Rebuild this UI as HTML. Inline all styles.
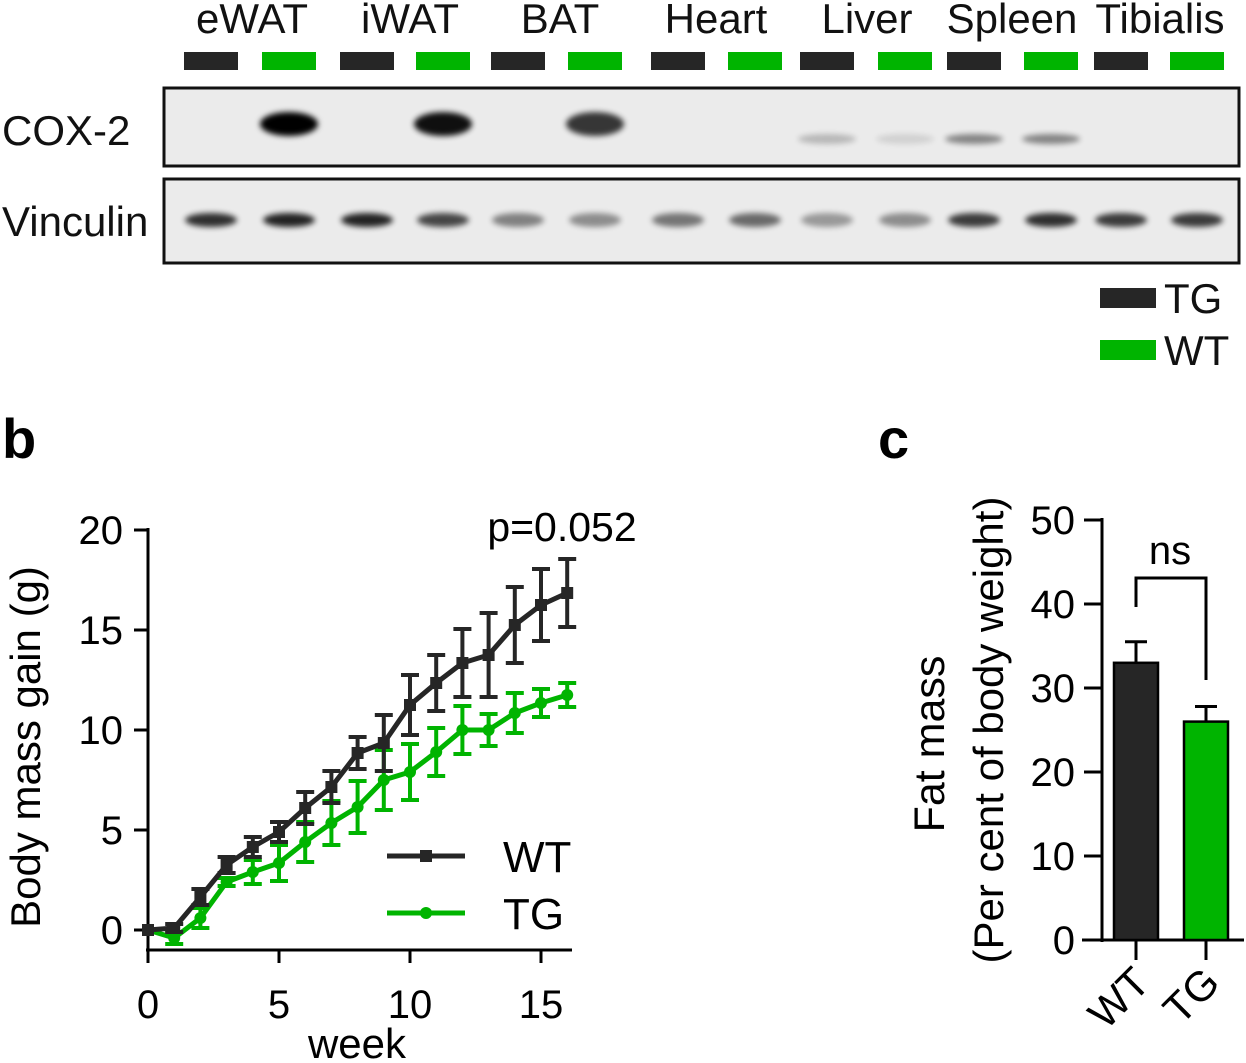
<!DOCTYPE html>
<html><head><meta charset="utf-8"><style>
html,body{margin:0;padding:0;background:#fff;}
svg{display:block;font-family:"Liberation Sans",Arial,sans-serif;}
</style></head><body>
<svg id="fig" width="1246" height="1063" viewBox="0 0 1246 1063">
<defs>
<filter id="blur" x="-50%" y="-100%" width="200%" height="300%"><feGaussianBlur stdDeviation="3"/></filter>
</defs>
<g id="blot"></g>
<g id="chartB"></g>
<g id="chartC"></g>
</svg>
<script>
const NS='http://www.w3.org/2000/svg';
function mk(tag,attrs,parent,text){const e=document.createElementNS(NS,tag);for(const k in attrs)e.setAttribute(k,attrs[k]);if(text!==undefined)e.textContent=text;parent.appendChild(e);return e;}
const BLACK='#262626', GREEN='#00b400';

// ---------- Blot (panel a) ----------
const tissues=['eWAT','iWAT','BAT','Heart','Liver','Spleen','Tibialis'];
const tissueX=[252,410,560,716,867,1012,1160];
const laneX=[211,289,367,443,518,595,678,755,827,905,974,1051,1121,1197];
const coxIntensity=[0,1,0,0.85,0,0.7,0,0,0.2,0.1,0.4,0.4,0,0];
const vincIntensity=[0.8,0.85,0.85,0.7,0.45,0.4,0.5,0.55,0.35,0.4,0.75,0.8,0.75,0.75];
const blot=document.getElementById('blot');
tissues.forEach((t,i)=>{const e=mk('text',{x:tissueX[i],y:33,'font-size':42,'text-anchor':'middle',fill:'#111'},blot,t);

});
laneX.forEach((x,i)=>{const r=mk('rect',{x:x-27,y:52,width:54,height:18,fill:i%2?GREEN:BLACK},blot);

});
const coxBox=mk('rect',{x:164,y:88,width:1075,height:78,fill:'#ebebeb',stroke:'#111','stroke-width':3},blot);
 
const vinBox=mk('rect',{x:164,y:179,width:1075,height:84,fill:'#ebebeb',stroke:'#111','stroke-width':3},blot);
 
laneX.forEach((x,i)=>{const v=coxIntensity[i]; if(v>0){const b=mk('ellipse',{cx:x,cy:v>0.5?124:139,rx:29,ry:v>0.5?12:5,fill:'#000',opacity:Math.min(1,v*1.1),filter:'url(#blur)'},blot);

}
const w=mk('ellipse',{cx:x,cy:220,rx:26,ry:7,fill:'#000',opacity:vincIntensity[i],filter:'url(#blur)'},blot);

});
let t1=mk('text',{x:2,y:145,'font-size':42,fill:'#111'},blot,'COX-2');
let t2=mk('text',{x:2,y:236,'font-size':42,fill:'#111'},blot,'Vinculin');
[['TG',BLACK,298],['WT',GREEN,350]].forEach(([n,c,y])=>{const g=mk('g',{},blot);


mk('rect',{x:1100,y:y-10,width:56,height:20,fill:c},g);mk('text',{x:1164,y:y+15,'font-size':42,fill:'#111'},g,n);});

// ---------- Panel b ----------
const weeks=[0,1,2,3,4,5,6,7,8,9,10,11,12,13,14,15,16];
const wtMean=[0,0.1,1.65,3.25,4.15,4.9,6.1,7.15,8.85,9.35,11.25,12.35,13.35,13.75,15.25,16.25,16.85];
const wtErr=[0,0.2,0.4,0.4,0.5,0.5,0.8,0.8,0.8,1.4,1.5,1.4,1.7,2.1,1.9,1.8,1.7];
const tgMean=[0,-0.4,0.6,2.4,2.9,3.35,4.4,5.35,6.15,7.5,7.9,8.9,10,10,10.85,11.35,11.75];
const tgErr=[0,0.3,0.5,0.2,0.6,0.9,1.0,1.1,1.3,1.5,1.4,1.2,1.2,0.8,1.0,0.7,0.6];
const bYTicks=[0,5,10,15,20];
const bXTicks=[0,5,10,15];
const bx=w=>148+w*(393/15), by=v=>930-v*20;
const B=document.getElementById('chartB');
let pb=mk('text',{x:2,y:458,'font-size':56,'font-weight':'bold',fill:'#000'},B,'b');
mk('line',{x1:148,y1:528,x2:148,y2:950,stroke:'#000','stroke-width':3},B);
mk('line',{x1:146,y1:950,x2:572,y2:950,stroke:'#000','stroke-width':3},B);
bYTicks.forEach(v=>{mk('line',{x1:134,y1:by(v),x2:148,y2:by(v),stroke:'#000','stroke-width':3},B);
const t=mk('text',{x:123,y:by(v)+14,'font-size':40,'text-anchor':'end',fill:'#000'},B,v);

});
bXTicks.forEach(v=>{mk('line',{x1:bx(v),y1:950,x2:bx(v),y2:963,stroke:'#000','stroke-width':3},B);
const t=mk('text',{x:bx(v),y:1018,'font-size':40,'text-anchor':'middle',fill:'#000'},B,v);

});
let xt=mk('text',{x:357,y:1058,'font-size':42,'text-anchor':'middle',fill:'#000'},B,'week');
let yt=mk('text',{x:0,y:0,'font-size':42,'text-anchor':'middle',fill:'#000',transform:'translate(40,747) rotate(-90)'},B,'Body mass gain (g)');
let pv=mk('text',{x:562,y:541,'font-size':41,'text-anchor':'middle',fill:'#000'},B,'p=0.052');
function series(mean,err,color,name,square){
  const g=mk('g',{},B);
  
  
  weeks.forEach((w,i)=>{if(err[i]>0){const x=bx(w);
    mk('line',{x1:x,y1:by(mean[i]+err[i]),x2:x,y2:by(mean[i]-err[i]),stroke:color,'stroke-width':4},g);
    mk('line',{x1:x-9,y1:by(mean[i]+err[i]),x2:x+9,y2:by(mean[i]+err[i]),stroke:color,'stroke-width':4},g);
    mk('line',{x1:x-9,y1:by(mean[i]-err[i]),x2:x+9,y2:by(mean[i]-err[i]),stroke:color,'stroke-width':4},g);}});
  mk('polyline',{points:weeks.map((w,i)=>bx(w)+','+by(mean[i])).join(' '),fill:'none',stroke:color,'stroke-width':5},g);
  weeks.forEach((w,i)=>{const p=square?mk('rect',{x:bx(w)-6,y:by(mean[i])-6,width:12,height:12,fill:color},g):mk('circle',{cx:bx(w),cy:by(mean[i]),r:6,fill:color},g);
    
    });
}
series(tgMean,tgErr,GREEN,'tg',false);
series(wtMean,wtErr,BLACK,'wt',true);
[['WT',BLACK,856,true],['TG',GREEN,913,false]].forEach(([n,c,y,sq])=>{const g=mk('g',{},B);


mk('line',{x1:387,y1:y,x2:465,y2:y,stroke:c,'stroke-width':5},g);
if(sq)mk('rect',{x:420,y:y-6,width:12,height:12,fill:c},g);else mk('circle',{cx:426,cy:y,r:6,fill:c},g);
mk('text',{x:503,y:y+16,'font-size':44,fill:'#000'},g,n);});

// ---------- Panel c ----------
const groups=['WT','TG'];
const fatMean=[33,26];
const fatErr=[2.5,1.8];
const cYTicks=[0,10,20,30,40,50];
const cy=v=>940-v*8.4;
const gx=[1136,1206];
const C=document.getElementById('chartC');
let pc=mk('text',{x:878,y:458,'font-size':56,'font-weight':'bold',fill:'#000'},C,'c');
mk('line',{x1:1102,y1:518,x2:1102,y2:942,stroke:'#000','stroke-width':3},C);
mk('line',{x1:1082,y1:940,x2:1244,y2:940,stroke:'#000','stroke-width':3},C);
cYTicks.forEach(v=>{if(v>0)mk('line',{x1:1084,y1:cy(v),x2:1102,y2:cy(v),stroke:'#000','stroke-width':3},C);
const t=mk('text',{x:1075,y:cy(v)+14,'font-size':40,'text-anchor':'end',fill:'#000'},C,v);

});
groups.forEach((g,i)=>{const x=gx[i];
mk('line',{x1:x,y1:cy(fatMean[i]+fatErr[i]),x2:x,y2:cy(fatMean[i]),stroke:'#000','stroke-width':3},C);
mk('line',{x1:x-11,y1:cy(fatMean[i]+fatErr[i]),x2:x+11,y2:cy(fatMean[i]+fatErr[i]),stroke:'#000','stroke-width':3},C);
const r=mk('rect',{x:x-22,y:cy(fatMean[i]),width:44,height:cy(0)-cy(fatMean[i]),fill:i?GREEN:BLACK,stroke:'#000','stroke-width':2.5},C);


mk('line',{x1:x,y1:940,x2:x,y2:960,stroke:'#000','stroke-width':3},C);
const t=mk('text',{x:0,y:0,'font-size':42,'text-anchor':'end',fill:'#000',transform:`translate(${x+16},${985}) rotate(-45)`},C,g);

});
mk('polyline',{points:`${gx[0]},607 ${gx[0]},578 ${gx[1]},578 ${gx[1]},680`,fill:'none',stroke:'#000','stroke-width':3},C);
let ns=mk('text',{x:1170,y:564,'font-size':40,'text-anchor':'middle',fill:'#000'},C,'ns');
let cy1=mk('text',{x:0,y:0,'font-size':43,'text-anchor':'middle',fill:'#000',transform:'translate(944,744) rotate(-90)'},C,'Fat mass');
let cy2=mk('text',{x:0,y:0,'font-size':42,'text-anchor':'middle',fill:'#000',transform:'translate(1003,730) rotate(-90)'},C,'(Per cent of body weight)');
</script>
</body></html>
